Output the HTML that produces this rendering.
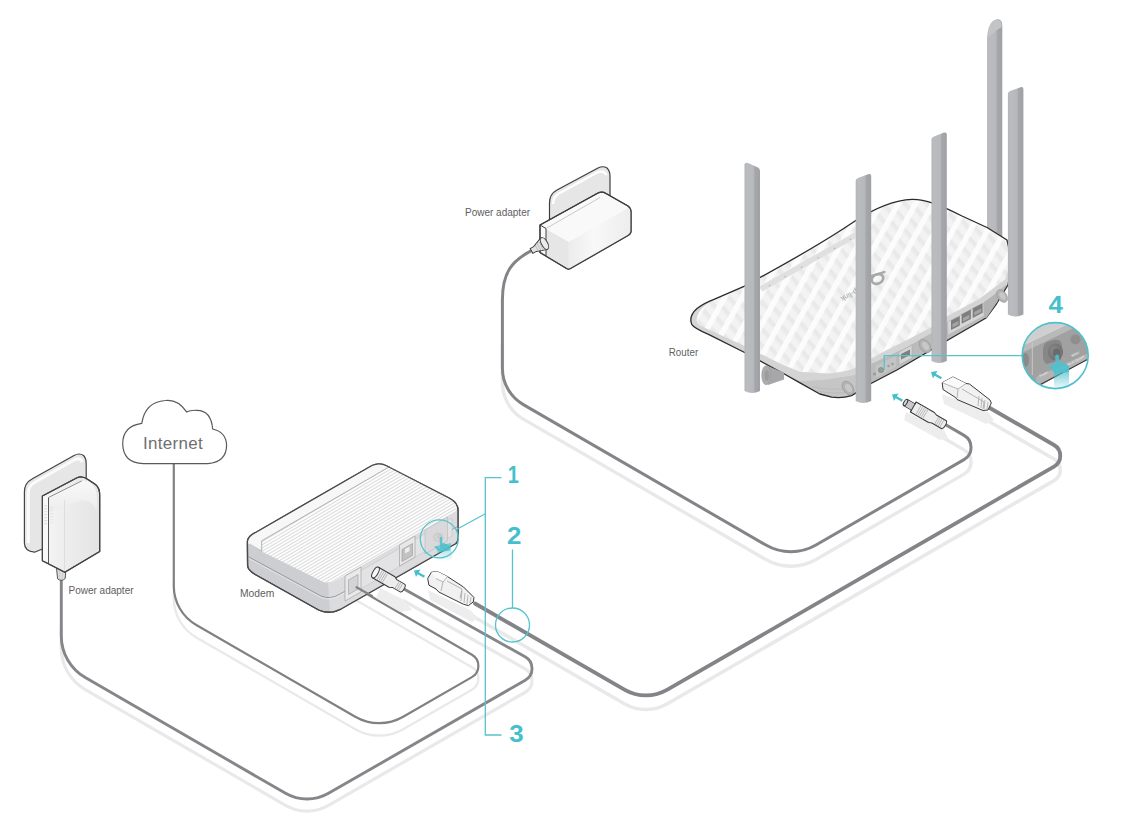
<!DOCTYPE html>
<html><head><meta charset="utf-8"><style>
html,body{margin:0;padding:0;background:#fff;}
svg{display:block;}
text{font-family:"Liberation Sans",sans-serif;}
</style></head><body>
<svg width="1134" height="828" viewBox="0 0 1134 828" xmlns="http://www.w3.org/2000/svg">
<path d="M 61.30 615.00 L 61.30 636.00 A 48.00 48.00 0 0 0 85.28 677.56 L 285.54 793.30 A 43.00 43.00 0 0 0 328.49 793.35 L 525.26 680.26 A 13.50 13.50 0 0 0 525.13 656.78 L 404.00 589.00" transform="translate(0,12)" fill="none" stroke="#e9e9e9" stroke-width="3.2" stroke-linecap="round"/>
<path d="M 173.80 570.00 L 173.80 586.01 A 45.00 45.00 0 0 0 196.31 624.99 L 355.25 716.68 A 48.00 48.00 0 0 0 403.17 716.71 L 471.92 677.15 A 12.90 12.90 0 0 0 471.95 654.80 L 357.00 588.30" transform="translate(0,12.5)" fill="none" stroke="#e9e9e9" stroke-width="2.3" stroke-linecap="round"/>
<path d="M 475.00 603.50 L 624.41 689.70 A 43.00 43.00 0 0 0 667.39 689.70 L 1054.02 466.63 A 12.50 12.50 0 0 0 1054.02 444.98 L 989.00 407.50" transform="translate(0,14)" fill="none" stroke="#e9e9e9" stroke-width="3.6" stroke-linecap="round"/>
<path d="M 502.40 330.00 L 502.40 368.28 A 42.00 42.00 0 0 0 523.36 404.63 L 765.89 545.02 A 50.00 50.00 0 0 0 815.93 545.06 L 964.03 459.60 A 14.00 14.00 0 0 0 964.05 435.36 L 944.00 423.75" transform="translate(0,14.5)" fill="none" stroke="#e9e9e9" stroke-width="3.4" stroke-linecap="round"/>
<path d="M 61.30 581.00 L 61.30 636.00 A 48.00 48.00 0 0 0 85.28 677.56 L 285.54 793.30 A 43.00 43.00 0 0 0 328.49 793.35 L 525.26 680.26 A 13.50 13.50 0 0 0 525.13 656.78 L 404.00 589.00" fill="none" stroke="#85868a" stroke-width="2.9" stroke-linecap="round" stroke-linejoin="round"/>
<path d="M 173.80 463.60 L 173.80 586.01 A 45.00 45.00 0 0 0 196.31 624.99 L 355.25 716.68 A 48.00 48.00 0 0 0 403.17 716.71 L 471.92 677.15 A 12.90 12.90 0 0 0 471.95 654.80 L 357.00 588.30" fill="none" stroke="#808185" stroke-width="2.2" stroke-linecap="round" stroke-linejoin="round"/>
<path d="M 475.00 603.50 L 624.41 689.70 A 43.00 43.00 0 0 0 667.39 689.70 L 1054.02 466.63 A 12.50 12.50 0 0 0 1054.02 444.98 L 989.00 407.50" fill="none" stroke="#838488" stroke-width="3.8" stroke-linecap="round" stroke-linejoin="round"/>
<path d="M 531.4 250.6 C 512 261 502.4 272 502.4 300 L 502.40 300.00 L 502.40 368.28 A 42.00 42.00 0 0 0 523.36 404.63 L 765.89 545.02 A 50.00 50.00 0 0 0 815.93 545.06 L 964.03 459.60 A 14.00 14.00 0 0 0 964.05 435.36 L 944.00 423.75" fill="none" stroke="#838488" stroke-width="3.0" stroke-linecap="round" stroke-linejoin="round"/>

<defs>
 <linearGradient id="lafront" x1="0" x2="1" y1="0" y2="0">
  <stop offset="0" stop-color="#f6f6f6"/><stop offset="0.25" stop-color="#f0f0f0"/><stop offset="1" stop-color="#e4e4e4"/>
 </linearGradient>
 <linearGradient id="latop" x1="0" x2="0" y1="0" y2="1">
  <stop offset="0" stop-color="#fafafa"/><stop offset="1" stop-color="#ececec"/>
 </linearGradient>
</defs>
<g id="ladapter" stroke="#444" stroke-width="1.2" stroke-linejoin="round">
  <path d="M34.5 552.2 Q24.4 551 24.4 543 L24.4 492 Q24.4 483 32 479 L74 455.5 Q79.5 452.5 83.5 455.5 Q86.2 458 86.2 464 L86.2 482 L42.4 549 Z" fill="#e6e6e6"/>
  <path d="M28.3 543 L28.3 493 Q28.3 486 34.5 482.5 L75 459.5 Q80.5 457.5 82.3 462" fill="none" stroke="#fbfbfb" stroke-width="3"/>
  <path d="M56.3 566 L66 568 L65.2 578.5 Q61.5 582 57.6 578.8 Z" fill="#dedede" stroke-width="0.9"/>
  <path d="M59.5 571 L59.8 579 M62.5 571.5 L62.3 579.5" stroke="#c4c4c4" stroke-width="0.6"/>
  <path d="M42.4 496 L77 477.8 Q82 475.5 88 479.5 L95.5 484.5 Q99.7 488 99.7 495 L99.7 551.5 L64.8 572.3 L42.4 560.7 Z" fill="url(#lafront)"/>
  <path d="M42.4 496 L48.5 497.5 L48.5 561.5 L42.4 560.6 Z" fill="#f8f8f8" stroke="none"/>
  <path d="M48.5 497.5 L81.5 481 Q87 479.5 92 484 Q97 489 97 500 L97 512 Q92 500 82 500 L48.5 512 Z" fill="url(#latop)" stroke="none" opacity="0.9"/>
  <line x1="48.5" y1="497.5" x2="48.5" y2="563.4" stroke-width="0.9"/>
  <line x1="64.5" y1="500" x2="64.5" y2="571" stroke="#d6d6d6" stroke-width="0.7"/>
  <path d="M48.5 497.5 L81.8 480.9" fill="none" stroke-width="0.8" stroke="#777"/>
  <g stroke="#d0d0d0" stroke-width="0.8"><path d="M44 506 L47 505.5 M44 509 L47 508.5 M44 512 L47 511.5 M44 515 L47 514.5 M44 518 L47 517.5 M44 521 L47 520.5 M44 524 L47 523.5"/></g>
  <g stroke="#e0e0e0" stroke-width="0.8"><path d="M50 508 L53 507.3 M50 511 L53 510.3 M50 514 L53 513.3 M50 517 L53 516.3 M50 520 L53 519.3 M50 523 L53 522.3"/></g>
  <path d="M42.4 496 L77 477.8 Q82 475.5 88 479.5 L95.5 484.5 Q99.7 488 99.7 495 L99.7 551.5 L64.8 572.3 L42.4 560.7 Z" fill="none"/>
</g>

<path d="M143.4 463.6 L207.8 463.6 Q226.6 462 226.6 445 Q226 432 212.7 429 Q211 410 196.4 410.3 Q190 410 186.6 411.9 Q178 399 165.4 400.5 Q145 402 141.8 423.3 Q122.7 426 122.7 443.7 Q123 463 143.4 463.6 Z" fill="#ffffff" stroke="#5a5a5a" stroke-width="1.2"/>
<text x="143" y="448.7" font-family="Liberation Sans, sans-serif" font-size="17" fill="#707070" letter-spacing="0.3">Internet</text>


<defs>
 <pattern id="mstripe" patternUnits="userSpaceOnUse" width="6" height="2.8" patternTransform="rotate(-30.5)">
   <rect width="6" height="2.8" fill="#fdfdfd"/>
   <rect y="0" width="6" height="0.8" fill="#d3d3d3"/>
 </pattern>
 <linearGradient id="mside" x1="0" x2="0" y1="0" y2="1">
   <stop offset="0" stop-color="#d9d9d9"/><stop offset="1" stop-color="#e6e6e6"/>
 </linearGradient>
</defs>
<g id="modem" stroke="#4a4a4a" stroke-width="1.3" stroke-linejoin="round">
  <path d="M247.4 545 L247.4 541.6 Q248 536 255.2 532.7 L372 465.5 Q379.5 462 387 466 L450 498.5 Q458 503 458 510 L458 538 Q458 542 455.5 543.8 L341.4 608.8 Q328.8 615 318.6 610 L255.2 574.5 Q247.6 570 247.6 565.6 Z" fill="#cdced1"/>
  <!-- SE face -->
  <path d="M328 583 Q334 582 340 578 L457.5 510 L458 538 Q458 542 455.5 543.8 L341.4 608.8 Q336 611.5 330 612.6 Z" fill="#dcdcdf" stroke="none"/>
  <!-- top face -->
  <path d="M247.6 543 Q248 536 255.2 532.7 L372 465.5 Q379.5 462 387 466 L450 498.5 Q457 502 457 510 L340 578 Q330 584 323.7 582.1 Z" fill="#f7f7f7" stroke="none"/>
  <path d="M261.7 551.5 L261.7 540.8 L388.3 467.4 L391 467 L451 500 Q456.5 504 456 511 L341 577.5 Q331 583 323.7 582 Z" fill="url(#mstripe)" stroke="none"/>
  <path d="M261.7 551.5 L261.7 540.8 L389.5 466.7" fill="none" stroke="#a0a0a0" stroke-width="0.8"/>
  <path d="M250 544 L261.7 551.5" fill="none" stroke="#c8c8c8" stroke-width="0.8"/>
  <path d="M248.5 556.8 L321 596 Q330 600 340 594 L457.5 526.5" fill="none" stroke="#8e8e90" stroke-width="0.8"/>
  <path d="M248.5 558.3 L321 597.5 Q330 601.5 340 595.5 L457.5 528" fill="none" stroke="#ececee" stroke-width="0.7"/>
  <path d="M247.4 545 L247.4 541.6 Q248 536 255.2 532.7 L372 465.5 Q379.5 462 387 466 L450 498.5 Q458 503 458 510 L458 538 Q458 542 455.5 543.8 L341.4 608.8 Q328.8 615 318.6 610 L255.2 574.5 Q247.6 570 247.6 565.6 Z" fill="none"/>
  <!-- back panel inset -->
  <path d="M345 580 L452 518 L452 536 L345 598 Z" fill="#e3e3e5" stroke="#c4c4c6" stroke-width="0.6"/>
  <!-- ports -->
  <path d="M345 576 L361 567 L361 592 L345 601 Z" fill="#e9e9e9" stroke="#a4a4a4" stroke-width="0.7"/>
  <path d="M348.5 580 L358 574.5 L358 589 L348.5 594.5 Z" fill="#d4d4d4" stroke="#9a9a9a" stroke-width="0.6"/>
  <path d="M399.5 545 L415 536 L415 557 L399.5 566 Z" fill="#e8e8e8" stroke="#a4a4a4" stroke-width="0.7"/>
  <path d="M402 549.5 L412.5 543.5 L412.5 555.5 L402 561.5 Z" fill="#c2c2c2" stroke="#999" stroke-width="0.6"/>
  <path d="M405 549 L409.5 546.5 L409.5 551 L405 553.5 Z" fill="#eee" stroke="none"/>
  <path d="M425 530 L447.5 517 L447.5 541 L425 554 Z" fill="#d9d9db" stroke="#b8b8ba" stroke-width="0.6"/>
  <ellipse cx="438.3" cy="537.3" rx="4.6" ry="4.2" fill="#d4d4d6" stroke="#bdbdbf" stroke-width="0.6"/>
  <ellipse cx="440" cy="536.5" rx="3" ry="3" fill="#cbcbcd" stroke="none"/>
</g>
<defs><linearGradient id="mglow" x1="0" x2="0" y1="0" y2="1"><stop offset="0" stop-color="#4cc0cb" stop-opacity="0.7"/><stop offset="1" stop-color="#4cc0cb" stop-opacity="0"/></linearGradient></defs>
<path d="M436.5 546 L451 543 L452 561 L437.5 561 Z" fill="url(#mglow)"/>
<path d="M439.8 546 L439.8 538.5 Q439.8 536.8 441 536.8 Q442.3 536.8 442.3 538.5 L442.3 543.5 Q444 542.5 445.2 544 Q446.8 543.2 447.8 545 Q449.5 544.8 449.8 547 L449.8 550.5 L440 552 Q436.5 549.5 434.5 547 Q434.5 545.5 436.5 546 L439.8 548.5 Z" fill="#4cc0cb" opacity="0.85"/>

<path d="M 372 596 L 356.5 587.2" fill="none" stroke="#808185" stroke-width="2.2" stroke-linecap="round"/>
<!-- shadows under plugs -->
<g fill="#ededed">
  <path d="M380 588 L404 600 L412 610 L400 612 L376 598 Z"/>
  <path d="M428 590 L470 610 L478 618 L472 622 L430 600 Z"/>
  <path d="M942 394 L988 412 L994 420 L986 424 L944 404 Z"/>
  <path d="M906 412 L944 430 L948 438 L940 440 L904 420 Z"/>
</g>
<!-- modem barrel plug -->
<g transform="translate(375.5 572.5) rotate(30)" stroke="#3a3a3a" stroke-width="1" stroke-linejoin="round">
  <path d="M0 -6 L19 -6 L22 -4.5 L31 -4.5 Q33 -4.5 33 0 Q33 4.5 31 4.5 L22 4.5 L19 6 L0 6 Z" fill="#ececec"/>
  <g stroke="#b0b0b0" stroke-width="0.8"><path d="M5 -5.5 L5 5.5 M7 -5.5 L7 5.5 M9 -5.5 L9 5.5 M11 -5.5 L11 5.5 M25 -4 L25 4 M27 -4 L27 4 M29 -4 L29 4"/></g>
  <ellipse cx="0" cy="0" rx="2.6" ry="6" fill="#f7f7f7"/>
</g>
<!-- router DC plug -->
<g transform="translate(905.5 402.5) rotate(30)" stroke="#3a3a3a" stroke-width="1" stroke-linejoin="round">
  <path d="M0 -3.6 L9 -3.6 L9 -5.8 L30 -5.8 L33 -4.6 L44 -4.6 Q46 -4.6 46 0 Q46 4.6 44 4.6 L33 4.6 L30 5.8 L9 5.8 L9 3.6 L0 3.6 Z" fill="#eeeeee"/>
  <rect x="0.5" y="-3.1" width="8.5" height="6.2" fill="#c9c9c9" stroke="none"/>
  <g stroke="#b4b4b4" stroke-width="0.8"><path d="M15 -5.3 L15 5.3 M17 -5.3 L17 5.3 M19 -5.3 L19 5.3 M21 -5.3 L21 5.3 M23 -5.3 L23 5.3 M36 -4 L36 4 M38 -4 L38 4 M40 -4 L40 4 M42 -4 L42 4"/></g>
  <ellipse cx="0" cy="0" rx="1.6" ry="3.6" fill="#d8d8d8"/>
  <path d="M9 -5.8 L9 5.8" fill="none"/>
</g>
<!-- modem RJ45 plug -->
<g stroke="#3a3a3a" stroke-width="1" stroke-linejoin="round">
  <path d="M427.7 578.4 L431.4 572.2 L437.5 571.6 L447.4 576.5 L463.5 587 L474 597.5 L473.3 601.9 L468.4 605.6 L463.5 604.3 L438.8 592 L436 589 L428.9 585.2 Z" fill="#f1f1f1"/>
  <path d="M431.4 572.2 L437.5 571.6 L447.4 576.5 L443 582 L436 578.5 Z" fill="#fafafa" stroke="none"/>
  <path d="M436 578.5 L443 582 L447.4 576.5 M443 582 L441 591 M447 581 L462 589 L460 598" fill="none" stroke="#9a9a9a" stroke-width="0.7"/>
  <path d="M462 591 L461 601 M465 593 L464 603 M468 595 L467 604 M471 597 L470 603" stroke="#a8a8a8" stroke-width="0.8"/>
</g>
<!-- router RJ45 plug -->
<g stroke="#3a3a3a" stroke-width="1" stroke-linejoin="round">
  <path d="M942.2 382.6 L952.9 377 L966 383.5 L969.5 384 L990 400 L991.3 403 L988 410 L983 410.5 L957 399.5 L955.5 397.5 L943 389.5 Z" fill="#f1f1f1"/>
  <path d="M942.2 382.6 L952.9 377 L966 383.5 L958 389 Z" fill="#fafafa" stroke="none"/>
  <path d="M943 383 L958 389 L966 383.5 M958 389 L957 398 M962 389 L984 402 L983 409" fill="none" stroke="#9a9a9a" stroke-width="0.7"/>
  <path d="M979 396 L978 406 M982 398 L981 408 M985 400 L984 409 M988 402 L987 409" stroke="#a8a8a8" stroke-width="0.8"/>
</g>


<defs>
 <linearGradient id="rase" x1="0" x2="1" y1="0" y2="0">
  <stop offset="0" stop-color="#ececec"/><stop offset="0.4" stop-color="#f8f8f8"/><stop offset="1" stop-color="#ededed"/>
 </linearGradient>
</defs>
<g id="radapter" stroke="#3e3e3e" stroke-width="1.2" stroke-linejoin="round">
  <path d="M549.5 222 L549.5 203 Q549.5 194 557 190 L598 168 Q603 165.5 607 168 Q610 171 610 176 L610 197 Z" fill="#e6e6e6"/>
  <path d="M553 204 Q553 197 559 193.5 L598 172 Q604 170 606.5 175" fill="none" stroke="#fff" stroke-width="2.4"/>
  <path d="M540 225 L598 193 Q602 191 606 193.5 L628 206 Q631 208 631 212 L631 231 Q631 234 628 235.5 L570 268.8 Q568.8 269.5 567 268.8 L540 252.5 Z" fill="#f9f9f9"/>
  <path d="M546 229 L568.8 242 L568.8 268.8 L546 255.8 Z" fill="#e6e6e6" stroke="none"/>
  <path d="M568.8 242 L628 208 Q631 208 631 212 L631 231 Q631 234 628 235.5 L570 268.8 L568.8 268.8 Z" fill="url(#rase)" stroke="none"/>
  <path d="M540 225 L546 228.5 L546 256" fill="none" stroke-width="1"/>
  <path d="M546 228.5 L600 197.5" fill="none" stroke="#bdbdbd" stroke-width="0.8"/>
  <path d="M540 225 L598 193 Q602 191 606 193.5 L628 206 Q631 208 631 212 L631 231 Q631 234 628 235.5 L570 268.8 Q568.8 269.5 567 268.8 L540 252.5 Z" fill="none"/>
  <g transform="translate(531.5 251) rotate(-30)">
    <path d="M0 -2.8 L4 -2.8 L14 -6.5 L15 -6.5 L15 6.5 L14 6.5 L4 2.8 L0 2.8 Z" fill="#e4e4e4" stroke-width="1"/>
    <ellipse cx="15" cy="0" rx="3" ry="6.5" fill="#ececec" stroke-width="1"/>
    <path d="M6 -3.2 L6 3.2 M8.5 -4.2 L8.5 4.2 M11 -5.2 L11 5.2" stroke="#b5b5b5" stroke-width="0.8"/>
  </g>
</g>
<!-- ROUTER -->
<defs>
 <pattern id="rpat" patternUnits="userSpaceOnUse" width="15.2" height="12" patternTransform="rotate(29)">
   <rect width="15.2" height="12" fill="#f3f3f3"/>
   <rect x="0" y="0" width="5.5" height="12" fill="#fcfcfc"/>
   <path d="M5.5 0 L15.2 3.5 L15.2 7.5 L5.5 4 Z" fill="#e9e9e9"/>
   <path d="M5.5 4 L15.2 7.5 L15.2 9 L5.5 5.5 Z" fill="#eeeeee"/>
 </pattern>
 <linearGradient id="ant" x1="0" x2="1" y1="0" y2="0">
   <stop offset="0" stop-color="#b3b4b7"/>
   <stop offset="0.15" stop-color="#bbbcbf"/>
   <stop offset="0.6" stop-color="#b7b8bb"/>
   <stop offset="0.66" stop-color="#a6a7aa"/>
   <stop offset="1" stop-color="#a0a1a4"/>
 </linearGradient>
 <radialGradient id="hinge" cx="0.5" cy="0.5" r="0.5">
   <stop offset="0" stop-color="#c4c4c4"/>
   <stop offset="0.6" stop-color="#a9a9a9"/>
   <stop offset="1" stop-color="#8c8c8c"/>
 </radialGradient>
</defs>
<g id="router" stroke-linejoin="round">
  <!-- antenna 4 (behind) -->
  <path d="M987.1 240 L987.1 38 Q988 22 996 19.5 Q1002.3 18 1002.3 26 L1002.3 240 Z" fill="url(#ant)"/>
  <path d="M987.6 38 Q989 22 996 19.8 Q1001.8 19 1001.8 27 Q996 30 987.6 38 Z" fill="#c3c4c6"/>
  <!-- body silhouette -->
  <path d="M691.7 324.3 Q688.5 316 697 308.5 Q704 303 714 299.3 L744 286.3 C772 271 817 247 855 221 C875 208 895 200 912 199.3 C925 199 940 205 962 216 L987 227.5 L1007 240 L1012 262 L1008 285 L996.7 303.5 L986 318 L949.3 339.2 L925.6 353.3 L896.9 370 L871 383.5 L851.6 395.6 Q842 398.5 831.7 397.1 L819.8 394 L800 382.9 L783.9 373.7 L743.6 352 L708.5 334.4 Q694 328 691.7 324.3 Z" fill="#d6d6d6"/>
  <!-- underside left -->
  <path d="M783.9 373.2 L800 381 L823.8 379.7 L854 374.9 L871.3 363.8 L871 383.5 L851.6 395.6 Q842 398.5 831.7 397.1 L819.8 394 L800 382.9 L783.9 373.7 Z" fill="#c6c6c6"/>
  <path d="M812 386.5 Q832 391.5 851 387.5 M818 391 Q835 395 851 391.5" fill="none" stroke="#b8b8b8" stroke-width="0.8"/>
  <!-- back panel -->
  <path d="M871.3 363.8 L906 347.4 L929.9 333.8 L947.4 321.8 L984.1 302.5 L1005.4 285.1 L1008 285 L996.7 303.5 L986 318 L949.3 339.2 L925.6 353.3 L896.9 370 L871 383.5 Z" fill="#bbbbbb"/>
  <!-- lid band -->
  <path d="M696 321 L704.3 327.5 L744 345.7 L782 364.5 L800 371.7 L823.8 373.3 L854 368.6 L871.3 358.5 L885.3 350.8 L906 340.6 L929.9 327.9 L947.4 316 L978.3 299.6 L1005.4 279.3 L1005.4 285.1 L984.1 302.5 L947.4 321.8 L929.9 333.8 L906 347.4 L871.3 363.8 L854 374.9 L823.8 379.7 L800 381 L783.9 373.2 L743.6 351.5 L708.5 334.4 Z" fill="#d4d4d4"/>
  <!-- top face -->
  <path d="M696.6 320.6 Q697 312.5 703 307.5 Q708 302.5 714 299.8 L744 286.8 C772 271.5 817 247.5 855 221.5 C875 208 895 200 912 199.3 C925 199 940 205 962 216 L987 227.5 L1007 240 Q1011 250 1008 270 L1005.4 279.3 L978.3 299.6 L947.4 316 L929.9 327.9 L906 340.6 L885.3 350.8 L871.3 358.5 L854 368.6 Q838 374 823.8 373.3 L800 371.7 L782 364.5 L744 345.7 L704.3 327.5 Q697 325 696.6 320.6 Z" fill="url(#rpat)"/>
  <!-- outline -->
  <path d="M691.7 324.3 Q688.5 316 697 308.5 Q704 303 714 299.3 L744 286.3 C772 271 817 247 855 221 C875 208 895 200 912 199.3 C925 199 940 205 962 216 L987 227.5 L1007 240 L1012 262 L1008 285 L996.7 303.5 L986 318 L949.3 339.2 L925.6 353.3 L896.9 370 L871 383.5 L851.6 395.6 Q842 398.5 831.7 397.1 L819.8 394 L800 382.9 L783.9 373.7 L743.6 352 L708.5 334.4 Q694 328 691.7 324.3 Z" fill="none" stroke="#2b2b2b" stroke-width="1.3"/>
  <!-- LED strip -->
  <path d="M759.5 286.5 L855 232.2 L855.5 238.3 L762.5 291.5 Z" fill="#e0e0e0"/>
  <g fill="#b4b4b4"><circle cx="769.6" cy="285.6" r="0.8"/><circle cx="785.1" cy="276.6" r="0.8"/><circle cx="801.6" cy="267.2" r="0.8"/><circle cx="818" cy="257.8" r="0.8"/><circle cx="834.5" cy="248.4" r="0.8"/><circle cx="850.5" cy="239.2" r="0.8"/></g>
  <!-- logo -->
  <ellipse cx="877.5" cy="279" rx="6" ry="4.6" transform="rotate(-25 877.5 279)" fill="none" stroke="#a8a8a8" stroke-width="2.6"/>
  <path d="M869 276.5 L884.5 272" stroke="#a8a8a8" stroke-width="2.2" stroke-linecap="round"/>
  <text transform="translate(857.5 287.5) rotate(150)" font-family="Liberation Sans, sans-serif" font-size="7.5" fill="#9a9a9a">tp-link</text>
  <!-- ports -->
  <path d="M947.5 322 L983.5 303 L984 316 L948 335 Z" fill="#d6d6d6" stroke="#b0b0b0" stroke-width="0.5"/>
  <path d="M984 302 L996 294 L998 300.8 L986.4 318 L984 317 Z" fill="#b3b3b3"/>
  <g fill="#7e7e7e">
   <path d="M951 320.5 L959.8 316 L959.8 325.5 L951 330 Z"/>
   <path d="M961.6 314.3 L970.9 309.5 L970.9 319 L961.6 323.8 Z"/>
   <path d="M972.7 308.3 L982.6 303.2 L982.6 312.8 L972.7 317.9 Z"/>
  </g>
  <g fill="#a5a5a5">
   <path d="M952.5 324 L958.3 321 L958.3 324.5 L952.5 327.5 Z"/>
   <path d="M963.1 318 L969.4 314.8 L969.4 318.3 L963.1 321.5 Z"/>
   <path d="M974.2 312 L981.1 308.5 L981.1 312 L974.2 315.5 Z"/>
  </g>
  <path d="M899 352 L912 345 L912 358 L899 365 Z" fill="#d4d4d4" stroke="#a8a8a8" stroke-width="0.5"/>
  <path d="M901 354 L910 349.5 L910 355 L901 359.5 Z" fill="#808080"/>
  <path d="M876 366 L896 355.5 L896 367 L876 377.5 Z" fill="#c4c4c4"/>
  <circle cx="881" cy="370" r="2.6" fill="#9a9a9a" stroke="#7e7e7e" stroke-width="0.6"/>
  <circle cx="888.5" cy="366" r="1.2" fill="#9a9a9a"/>
  <circle cx="892.5" cy="364" r="1.2" fill="#9a9a9a"/>
  <circle cx="874.5" cy="374" r="1.6" fill="#9a9a9a"/>
  <!-- hinges -->
  <g stroke="#9a9a9a" stroke-width="0.7">
  <path d="M766 365.5 L784 372.5 L784 379.5 L768 385 Z" fill="#a7a7aa" stroke="none"/>
  <ellipse cx="766.2" cy="375.3" rx="4.4" ry="9.5" fill="#adadb0"/>
  <ellipse cx="766.8" cy="375.3" rx="2.4" ry="5.6" fill="#9d9da0" stroke="none"/>
  <ellipse cx="848" cy="388" rx="5" ry="7.5" transform="rotate(-35 848 388)" fill="#b3b3b3"/>
  <ellipse cx="848.5" cy="388" rx="2.8" ry="4.5" transform="rotate(-35 848.5 388)" fill="#c8c8c8" stroke="none"/>
  <ellipse cx="925" cy="346" rx="5" ry="7.5" transform="rotate(-35 925 346)" fill="#b3b3b3"/>
  <ellipse cx="925.5" cy="346" rx="2.8" ry="4.5" transform="rotate(-35 925.5 346)" fill="#c8c8c8" stroke="none"/>
  <ellipse cx="1002" cy="296" rx="4.5" ry="7" transform="rotate(-35 1002 296)" fill="#b3b3b3"/>
  <ellipse cx="1002.5" cy="296" rx="2.5" ry="4.2" transform="rotate(-35 1002.5 296)" fill="#c8c8c8" stroke="none"/>
  </g>
  <!-- antennas front -->
  <path d="M744.5 391 L744.5 164.5 Q745 162 748 163 L758 167.5 Q760 168.5 760 171 L760 391 Q752 395 744.5 391 Z" fill="url(#ant)"/>
  <path d="M855.7 401 L855.7 181 Q855.7 179 858 178 L868 174.3 Q871.2 173.5 871.2 176 L871.2 401 Q863 405 855.7 401 Z" fill="url(#ant)"/>
  <path d="M931.5 361 L931.5 139.5 Q931.5 137.5 934 136.5 L944 132.6 Q946.8 132 946.8 134.5 L946.8 361 Q939 365 931.5 361 Z" fill="url(#ant)"/>
  <path d="M1007.9 314.5 L1007.9 94 Q1007.9 92 1010 91 L1020.5 87.3 Q1023.4 86.5 1023.4 89 L1023.4 314.5 Q1015 318.5 1007.9 314.5 Z" fill="url(#ant)"/>
</g>

<!-- labels -->
<text x="68.5" y="593.8" font-size="10" fill="#606060">Power adapter</text>
<text x="465" y="216" font-size="10" fill="#606060">Power adapter</text>
<text x="240" y="596.6" font-size="10.3" fill="#606060">Modem</text>
<text transform="translate(668.8 355.9) scale(0.89 1)" font-size="11" fill="#606060">Router</text>
<g id="teal" fill="none" stroke="#56c3cd" stroke-width="1.3">
  <path d="M501.5 477.6 L485.3 477.6 L485.3 735 L501.5 735"/>
  <path d="M485.3 513.8 L456 529.7"/>
  <circle cx="439.3" cy="538.8" r="19"/>
  <path d="M512.5 549.5 L512.5 608"/>
  <circle cx="512.5" cy="625" r="17"/>
  <path d="M884.2 370 L884.2 355.7 L1023 355.7"/>
</g>
<g font-family="Liberation Sans, sans-serif" font-weight="bold" font-size="23.5" fill="#45bfcb">
  <text transform="translate(507.8 483.3) scale(0.85 1)">1</text>
  <text transform="translate(507.1 544.4) scale(1.1 1)">2</text>
  <text transform="translate(509.2 741.6) scale(1.1 1)">3</text>
  <text transform="translate(1048.4 313.4) scale(1.1 1)">4</text>
</g>
<g id="arrows" fill="#45bfcb">
  <path d="M414 570.5 L420.5 569.5 L418.8 572.3 L425 575.8 L423.8 577.8 L417.6 574.3 L416 577 Z"/>
  <path d="M892 394.5 L898.5 393.5 L896.8 396.3 L903 399.8 L901.8 401.8 L895.6 398.3 L894 401 Z"/>
  <path d="M931 372 L937.5 371 L935.8 373.8 L942 377.3 L940.8 379.3 L934.6 375.8 L933 378.5 Z"/>
</g>
<!-- circle 4 -->
<defs>
 <linearGradient id="glow" x1="0" x2="0" y1="0" y2="1">
  <stop offset="0" stop-color="#4cc0cb" stop-opacity="0.75"/><stop offset="1" stop-color="#4cc0cb" stop-opacity="0"/>
 </linearGradient>
 <radialGradient id="jackg" cx="0.4" cy="0.4" r="0.6">
  <stop offset="0" stop-color="#8a8a8a"/><stop offset="1" stop-color="#6f6f6f"/>
 </radialGradient>
</defs>
<g id="c4">
  <clipPath id="c4clip"><circle cx="1055.2" cy="355.6" r="33"/></clipPath>
  <g clip-path="url(#c4clip)">
    <rect x="1020" y="320" width="72" height="72" fill="#ffffff"/>
    <path d="M1015 350 L1095 305 L1095 355 L1041.9 384.5 L1015 395 Z" fill="#a1a1a1"/>
    <path d="M1015 338 L1095 300 L1095 312 L1015 350 Z" fill="#cfcfcf"/>
    <path d="M1015 350 L1095 312 L1095 318 L1015 356 Z" fill="#b9b9b9"/>
    <path d="M1036 377 L1095 350 L1095 355.5 L1041.9 384.5 L1036 386 Z" fill="#b3b3b3"/>
    <path d="M1040 384.8 L1095 355.5" stroke="#3a3a3a" stroke-width="1.1"/>
    <rect x="1031.8" y="342" width="1" height="33" fill="#c8c8c8"/>
    <ellipse cx="1025.5" cy="360" rx="3.5" ry="7" fill="#8a8a8a"/>
    <path d="M1043 350 Q1043 342 1050 341 L1056 339.5 Q1062 339.5 1062 347 L1061 360 L1047 364 Q1043 362 1043 356 Z" fill="#878787"/>
    <ellipse cx="1055.5" cy="352" rx="7.5" ry="8.5" fill="url(#jackg)"/>
    <ellipse cx="1056.5" cy="352.5" rx="3.5" ry="4" fill="#6a6a6a"/>
    <circle cx="1075.5" cy="339.5" r="5" fill="#8f8f8f"/>
    <g fill="#e4e4e4" font-family="Liberation Sans, sans-serif" font-size="3.2" font-weight="bold">
      <text transform="translate(1040 377) rotate(-27)">Power</text>
      <text transform="translate(1072 357) rotate(-27)">WPS/</text>
      <text transform="translate(1068 366) rotate(-27)">Wi-Fi On/Off</text>
    </g>
    <rect x="1054" y="371" width="15" height="20" fill="url(#glow)"/>
    <path d="M1055.2 364 L1055.2 356.5 Q1055.2 354.5 1057 354.5 Q1059 354.5 1059 356.5 L1059 362.5 Q1061.5 361 1063 363 Q1065.5 362 1066.5 364.5 Q1068.5 364 1069 366.5 L1069 372 L1055 373.5 Q1051 370 1049.5 366.5 Q1049.5 364 1052 364.5 Z" fill="#4dc1cc" opacity="0.9"/>
  </g>
  <circle cx="1055.2" cy="355.6" r="33" fill="none" stroke="#4ec1cc" stroke-width="1.6"/>
</g>

</svg>
</body></html>
